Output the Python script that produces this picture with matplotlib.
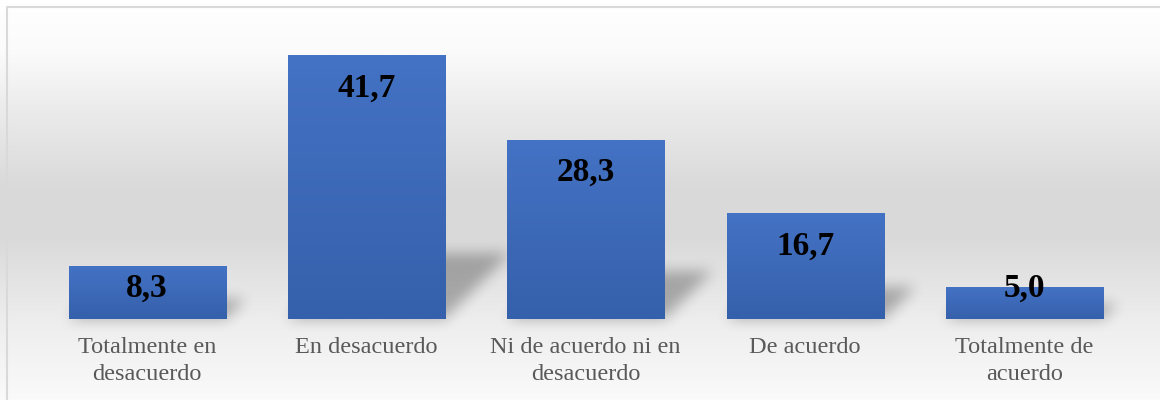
import numpy as np
import matplotlib
matplotlib.use("Agg")
import matplotlib.pyplot as plt
from matplotlib.colors import LinearSegmentedColormap

categorias = ["Totalmente en\ndesacuerdo", "En desacuerdo", "Ni de acuerdo ni en\ndesacuerdo",
              "De acuerdo", "Totalmente de\nacuerdo"]
valores = [8.3, 41.7, 28.3, 16.7, 5.0]
etiquetas = ["8,3", "41,7", "28,3", "16,7", "5,0"]

W, H = 1160, 400
fig = plt.figure(figsize=(W / 100, H / 100), dpi=100)

# fondo degradado de toda la figura
bg = fig.add_axes([0, 0, 1, 1], zorder=0)
bg.set_xlim(0, W)
bg.set_ylim(H, 0)
bg.axis("off")
stops = [(0, "#ffffff"), (50, "#fbfbfb"), (110, "#ebebeb"), (190, "#d9d9d9"),
         (240, "#dadada"), (320, "#ededed"), (400, "#fafafa")]
cm_bg = LinearSegmentedColormap.from_list("bg", [(p / H, c) for p, c in stops])
grad = np.linspace(0, 1, H).reshape(-1, 1)
bg.imshow(grad, cmap=cm_bg, extent=(0, W, H, 0), aspect="auto", vmin=0, vmax=1)
bg.plot([7, 7, W], [H, 6.5, 6.5], color="#d9d9d9", lw=1.5)

ax = fig.add_axes([37.5 / W, 81 / H, 1096.5 / W, 284 / H], zorder=2)
ax.patch.set_alpha(0)
x = np.arange(len(valores))
ancho = 0.716
barras = ax.bar(x, valores, width=ancho, color="none", zorder=1)
ax.set_xlim(-0.5, len(valores) - 0.5)
ax.set_ylim(0, 45)

# sombras proyectadas (calculadas en pixeles y difuminadas)
mask = np.zeros((H, W))
for b in barras:
    (xl, y0) = ax.transData.transform((b.get_x(), 0))
    (xr, y1) = ax.transData.transform((b.get_x() + b.get_width(), b.get_height()))
    base = H - y0
    hpx = y1 - y0
    s = 0.22 * hpx + 8
    for r in range(int(base - s), int(base)):
        off = (base - r)
        mask[r, int(xl + off):int(xr + off)] = 1.0

def box_blur(a, k):
    for axis in (0, 1):
        c = np.cumsum(np.pad(a, [(k, k) if i == axis else (0, 0) for i in range(2)], mode="edge"), axis=axis)
        c = np.insert(c, 0, 0, axis=axis)
        n = a.shape[axis]
        a = (np.take(c, np.arange(2 * k + 1, n + 2 * k + 1), axis=axis)
             - np.take(c, np.arange(0, n), axis=axis)) / (2 * k + 1)
    return a

for _ in range(3):
    mask = box_blur(mask, 6)
rgba = np.zeros((H, W, 4))
rgba[..., 3] = mask * 0.28
bg.imshow(rgba, extent=(0, W, H, 0), aspect="auto", zorder=2)

# barras con degradado
cm_bar = LinearSegmentedColormap.from_list("bar", ["#3560ab", "#4472c4"])
for b in barras:
    g = np.linspace(0, 1, 100).reshape(-1, 1)
    ax.imshow(g, cmap=cm_bar, origin="lower", aspect="auto", zorder=2,
              extent=(b.get_x(), b.get_x() + b.get_width(), 0, b.get_height()))
ax.set_xlim(-0.5, len(valores) - 0.5)
ax.set_ylim(0, 45)

for xi, v, t in zip(x, valores, etiquetas):
    ax.text(xi, max(v - 5.1, 4.85), t, ha="center", va="center", fontsize=24,
            fontweight="bold", family="Liberation Serif", color="black", zorder=4)

ax.set_xticks(x)
ax.set_xticklabels(categorias, fontsize=17.5, family="Liberation Serif", color="#595959",
                   linespacing=1.35)
ax.tick_params(axis="x", length=0, pad=13)
ax.set_yticks([])
for sp in ax.spines.values():
    sp.set_visible(False)

fig.savefig("out.png", dpi=100)
